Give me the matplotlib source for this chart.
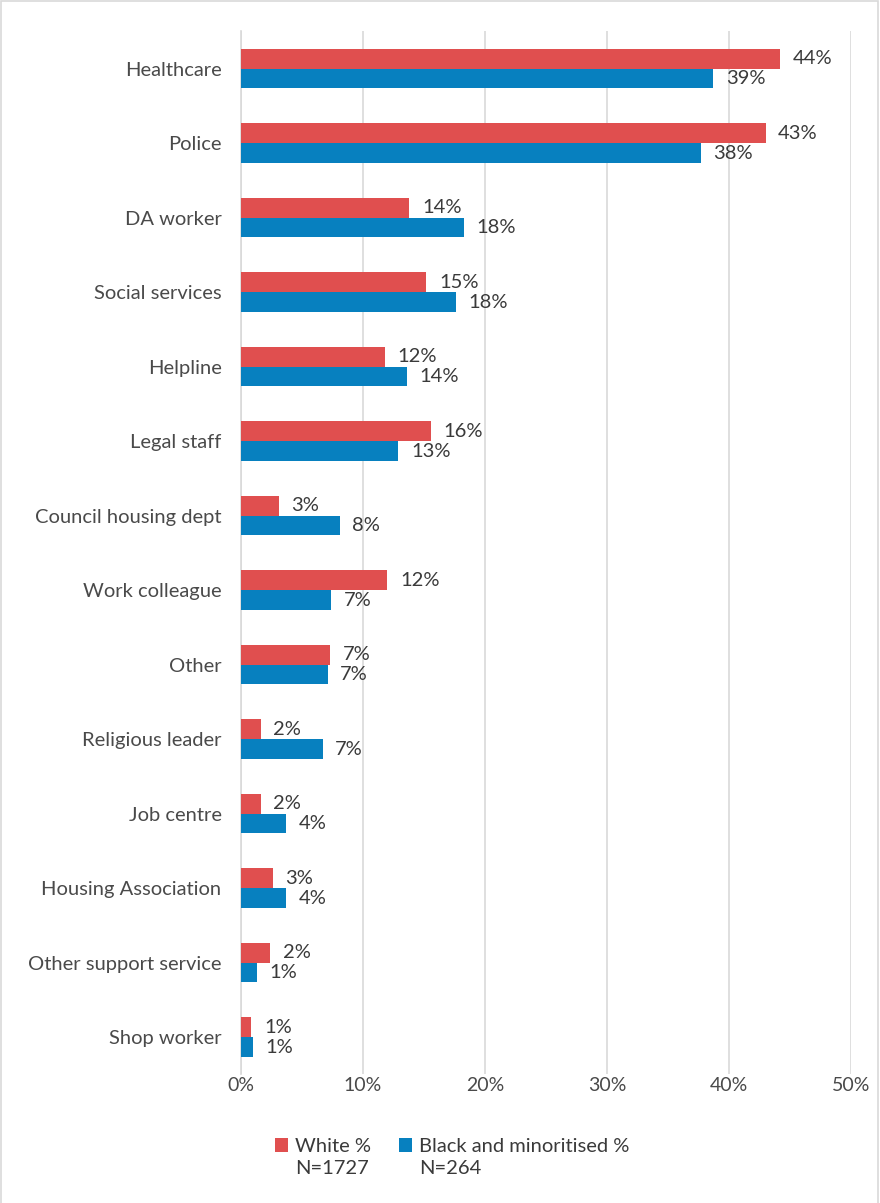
import matplotlib
matplotlib.use("Agg")
import matplotlib.pyplot as plt
from matplotlib.patches import Rectangle, Patch

# Who survivors told about the abuse, by ethnicity (%)
categories = [
    "Healthcare", "Police", "DA worker", "Social services", "Helpline",
    "Legal staff", "Council housing dept", "Work colleague", "Other",
    "Religious leader", "Job centre", "Housing Association",
    "Other support service", "Shop worker",
]
white_pct = [44.2, 43.0, 13.8, 15.2, 11.8, 15.6, 3.1, 12.0, 7.3, 1.6, 1.6, 2.6, 2.4, 0.85]
bme_pct = [38.7, 37.7, 18.3, 17.6, 13.6, 12.9, 8.1, 7.4, 7.1, 6.7, 3.7, 3.7, 1.3, 0.96]
series_names = ["White %", "Black and minoritised %"]
series_n = ["N=1727", "N=264"]
x_ticks = [0, 10, 20, 30, 40, 50]

RED = "#E04F4F"
BLUE = "#0780BF"
TEXT = "#3A3A3A"
TICK = "#4A4A4A"
GRID = "#D9D9D9"
FONT = "Lato"

plt.rcParams["font.family"] = [FONT, "DejaVu Sans"]

fig = plt.figure(figsize=(8.8, 12.03), dpi=100)
ax = fig.add_axes([0.2739, 0.107, 0.6932, 0.867])

bar_h = 0.268
ys = list(range(len(categories)))
y_white = [y - bar_h / 2 for y in ys]
y_bme = [y + bar_h / 2 for y in ys]

bw = ax.barh(y_white, white_pct, height=bar_h, color=RED, zorder=3)
bb = ax.barh(y_bme, bme_pct, height=bar_h, color=BLUE, zorder=3)

for bars, vals in ((bw, white_pct), (bb, bme_pct)):
    ax.bar_label(bars, labels=[f"{round(v):d}%" for v in vals], padding=9,
                 fontsize=14.5, color=TEXT)

ax.set_xlim(0, 50)
ax.set_ylim(len(categories) - 0.5, -0.5)
ax.set_xticks(x_ticks)
ax.set_xticklabels([f"{t}%" for t in x_ticks])
ax.set_yticks(ys)
ax.set_yticklabels(categories)
ax.tick_params(axis="x", length=0, pad=2, labelsize=14, labelcolor=TICK)
ax.tick_params(axis="y", length=0, pad=14, labelsize=14.5, labelcolor=TICK)

ax.grid(axis="x", color=GRID, linewidth=1.2, zorder=0)
ax.set_axisbelow(True)
for side in ("top", "right", "bottom"):
    ax.spines[side].set_visible(False)
ax.spines["left"].set_color(GRID)
ax.spines["left"].set_linewidth(1.2)

handles = [Patch(facecolor=RED), Patch(facecolor=BLUE)]
leg = fig.legend(handles, series_names, loc="upper left",
                 bbox_to_anchor=(0.312, 1 - 1138 / 1203), ncol=2, frameon=False,
                 fontsize=14.5, handlelength=0.65, handleheight=0.65,
                 handletextpad=0.35, columnspacing=1.4, labelcolor=TEXT,
                 borderpad=0, borderaxespad=0)

# sample sizes go on a second line beneath each legend entry
fig.canvas.draw()
renderer = fig.canvas.get_renderer()
inv = fig.transFigure.inverted()
for txt, n_label in zip(leg.get_texts(), series_n):
    bb_t = txt.get_window_extent(renderer)
    x0, y0 = inv.transform((bb_t.x0, bb_t.y0))
    fig.text(x0, y0 - 0.0045, n_label, ha="left", va="top",
             fontsize=14.5, color=TEXT)

# thin frame around the chart area
fig.patches.append(Rectangle((0.001, -0.01), 0.997, 1.009, transform=fig.transFigure,
                             fill=False, edgecolor=GRID, linewidth=1.2))

fig.savefig("out.png", dpi=100, facecolor="white")
